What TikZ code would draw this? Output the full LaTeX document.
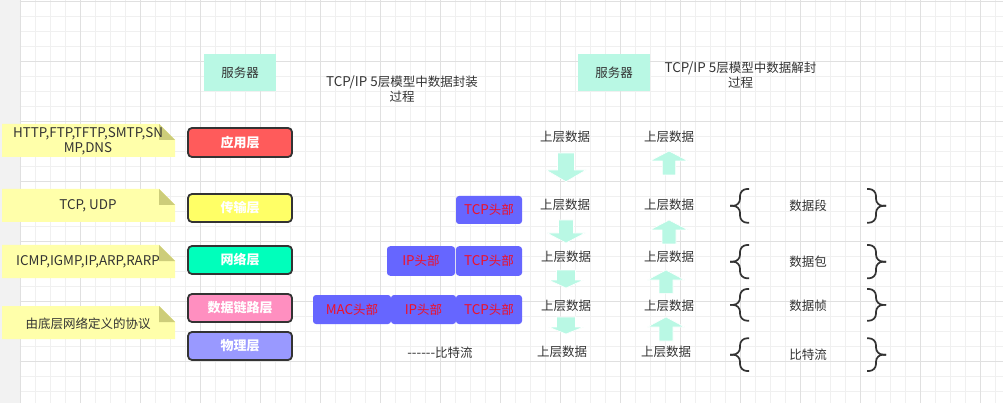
\documentclass[tikz,border=0pt]{standalone}
\usepackage{fontspec}
\setmainfont{Noto Sans CJK SC}
\newfontfamily\plainf{Noto Sans CJK SC}
\newcommand\lf{\fontsize{13.4}{15}\selectfont}
\definecolor{txtgray}{RGB}{51,51,51}
\definecolor{stripgray}{RGB}{242,242,242}
\definecolor{gridminor}{RGB}{240,240,240}
\definecolor{gridmajor}{RGB}{224,224,224}
\definecolor{mint}{RGB}{185,248,228}
\definecolor{notefill}{RGB}{255,255,170}
\definecolor{notefold}{RGB}{205,205,122}
\definecolor{appred}{RGB}{255,91,91}
\definecolor{transyel}{RGB}{255,255,102}
\definecolor{netgreen}{RGB}{0,255,187}
\definecolor{linkpink}{RGB}{255,143,192}
\definecolor{phyblue}{RGB}{153,153,255}
\definecolor{hdrblue}{RGB}{102,102,255}
\definecolor{hdrred}{RGB}{240,16,40}
\begin{document}
\begin{tikzpicture}[x=1pt,y=-1pt,
  font=\fontsize{12.5}{15}\selectfont,
  every node/.style={text=txtgray},
  gridthin/.style={draw=gridminor,line width=1pt},
  gridthick/.style={draw=gridmajor,line width=1pt},
  srvbox/.style={fill=mint,draw=none,minimum width=72pt,minimum height=37pt,inner sep=0pt},
  layerbox/.style={draw=txtgray,line width=1.8pt,rounded corners=4pt,minimum width=104pt,inner sep=0pt,text=white,font=\fontsize{13}{15}\selectfont\bfseries},
  hdrbox/.style={fill=hdrblue,draw=none,rounded corners=3pt,inner sep=0pt,text=hdrred},
  notebody/.style={fill=notefill,draw=none},
  notecorner/.style={fill=notefold,draw=none},
  lbl/.style={inner sep=0pt,align=center},
  arr/.style={fill=mint,draw=white,line width=0.6pt},
  brc/.style={draw=txtgray,line width=1.7pt,rounded corners=7pt}]
\useasboundingbox (0,0) rectangle (1003,403);
% background and grid
\fill[white] (0,0) rectangle (1003,403);
\fill[stripgray] (0,0) rectangle (19.5,403);
\foreach \i in {0,...,65} \draw[gridthin] ({20+15*\i},0) -- ({20+15*\i},403);
\foreach \j in {0,...,26} \draw[gridthin] (19.5,{1.5+15*\j}) -- (1003,{1.5+15*\j});
\foreach \i in {0,...,16} \draw[gridthick] ({20+60*\i},0) -- ({20+60*\i},403);
\foreach \j in {0,...,6} \draw[gridthick] (19.5,{1.5+60*\j}) -- (1003,{1.5+60*\j});
% servers and titles
\node[srvbox] (srvL) at (240,72.5) {服务器};
\node[srvbox] (srvR) at (614,72.5) {服务器};
\node[lbl] (titleL) at (402,88.7) {{\lf TCP/IP 5}层模型中数据封装\\过程};
\node[lbl] (titleR) at (740.5,75.5) {{\lf TCP/IP 5}层模型中数据解封\\过程};
% notes
\foreach \t/\b in {124/157,189/222,245/278,306/339}{
  \fill[notebody] (2,\t) -- (159,\t) -- (175,{\t+16}) -- (175,\b) -- (2,\b) -- cycle;
  \fill[notecorner] (159,\t) -- (159,{\t+16}) -- (175,{\t+16}) -- cycle;
}
\node[lbl,font=\lf] (noteA) at (88,141.5) {HTTP,FTP,TFTP,SMTP,SN\\MP,DNS};
\node[lbl,font=\lf] (noteB) at (88,206) {TCP, UDP};
\node[lbl,font=\lf] (noteC) at (88,262) {ICMP,IGMP,IP,ARP,RARP};
\node[lbl] (noteD) at (88,323.5) {由底层网络定义的协议};
% layers
\node[layerbox,fill=appred,minimum height=29pt] (app) at (240,142.5) {应用层};
\node[layerbox,fill=transyel,minimum height=28pt] (trans) at (240,208) {传输层};
\node[layerbox,fill=netgreen,minimum height=28pt] (net) at (240,260) {网络层};
\node[layerbox,fill=linkpink,minimum height=28pt] (link) at (240,308) {数据链路层};
\node[layerbox,fill=phyblue,minimum height=28pt] (phy) at (240,346) {物理层};
% headers
\node[hdrbox,minimum width=66pt,minimum height=28pt] (tcpA) at (489,210) {{\lf TCP}头部};
\node[hdrbox,minimum width=68pt,minimum height=29.5pt] (ipB) at (421,261) {{\lf IP}头部};
\node[hdrbox,minimum width=66pt,minimum height=29.5pt] (tcpB) at (489,261) {{\lf TCP}头部};
\node[hdrbox,minimum width=78pt,minimum height=29pt] (macC) at (352,309.5) {{\lf MAC}头部};
\node[hdrbox,minimum width=65pt,minimum height=29pt] (ipC) at (423.5,309.5) {{\lf IP}头部};
\node[hdrbox,minimum width=66pt,minimum height=29pt] (tcpC) at (489,309.5) {{\lf TCP}头部};
\node[lbl] (bits) at (440,352.7) {{\plainf\lf ------}比特流};
% data labels
\node[lbl] (dL1) at (565,137) {上层数据};
\node[lbl] (dL2) at (565,205) {上层数据};
\node[lbl] (dL3) at (566,256.7) {上层数据};
\node[lbl] (dL4) at (566,305.7) {上层数据};
\node[lbl] (dL5) at (562,352) {上层数据};
\node[lbl] (dR1) at (669,137) {上层数据};
\node[lbl] (dR2) at (669,205) {上层数据};
\node[lbl] (dR3) at (669,256.7) {上层数据};
\node[lbl] (dR4) at (669,305.7) {上层数据};
\node[lbl] (dR5) at (666,352) {上层数据};
% down arrows: cx / top / base / tip / shaft half / head half
\foreach \cx/\tp/\bs/\tip/\sh/\hh in {566/153/170/181.7/8.5/20, 566/220/233/243/7.5/19, 566/270/280/288/9.5/17.5, 566/317/327/334/9.5/17.5}{
  \filldraw[arr] ({\cx-\sh},\tp) -- ({\cx+\sh},\tp) -- ({\cx+\sh},\bs) -- ({\cx+\hh},\bs) -- (\cx,\tip) -- ({\cx-\hh},\bs) -- ({\cx-\sh},\bs) -- cycle;
}
% up arrows: cx / tip / base / bottom / shaft half / head half
\foreach \cx/\tip/\bs/\bt/\sh/\hh in {669/151/161/175/6.7/19, 669/220/230/244/7/19, 666/270/280/293.3/7/18.5, 666/317/327/341/7/18.5}{
  \filldraw[arr] (\cx,\tip) -- ({\cx+\hh},\bs) -- ({\cx+\sh},\bs) -- ({\cx+\sh},\bt) -- ({\cx-\sh},\bt) -- ({\cx-\sh},\bs) -- ({\cx-\hh},\bs) -- cycle;
}
% braces
\foreach \t/\b in {189/222.7,245/278.3,289/320.7,338.3/371}{
  \draw[brc] (749,\t) -- (740,\t) -- (740,{(\t+\b)/2}) -- (730,{(\t+\b)/2});
  \draw[brc] (749,\b) -- (740,\b) -- (740,{(\t+\b)/2}) -- (730,{(\t+\b)/2});
  \draw[brc] (867,\t) -- (876,\t) -- (876,{(\t+\b)/2}) -- (886,{(\t+\b)/2});
  \draw[brc] (867,\b) -- (876,\b) -- (876,{(\t+\b)/2}) -- (886,{(\t+\b)/2});
}
\node[lbl] (seg) at (808,206) {数据段};
\node[lbl] (pkt) at (808,261.7) {数据包};
\node[lbl] (frm) at (808,305.7) {数据帧};
\node[lbl] (bit) at (808,355) {比特流};
\end{tikzpicture}
\end{document}
